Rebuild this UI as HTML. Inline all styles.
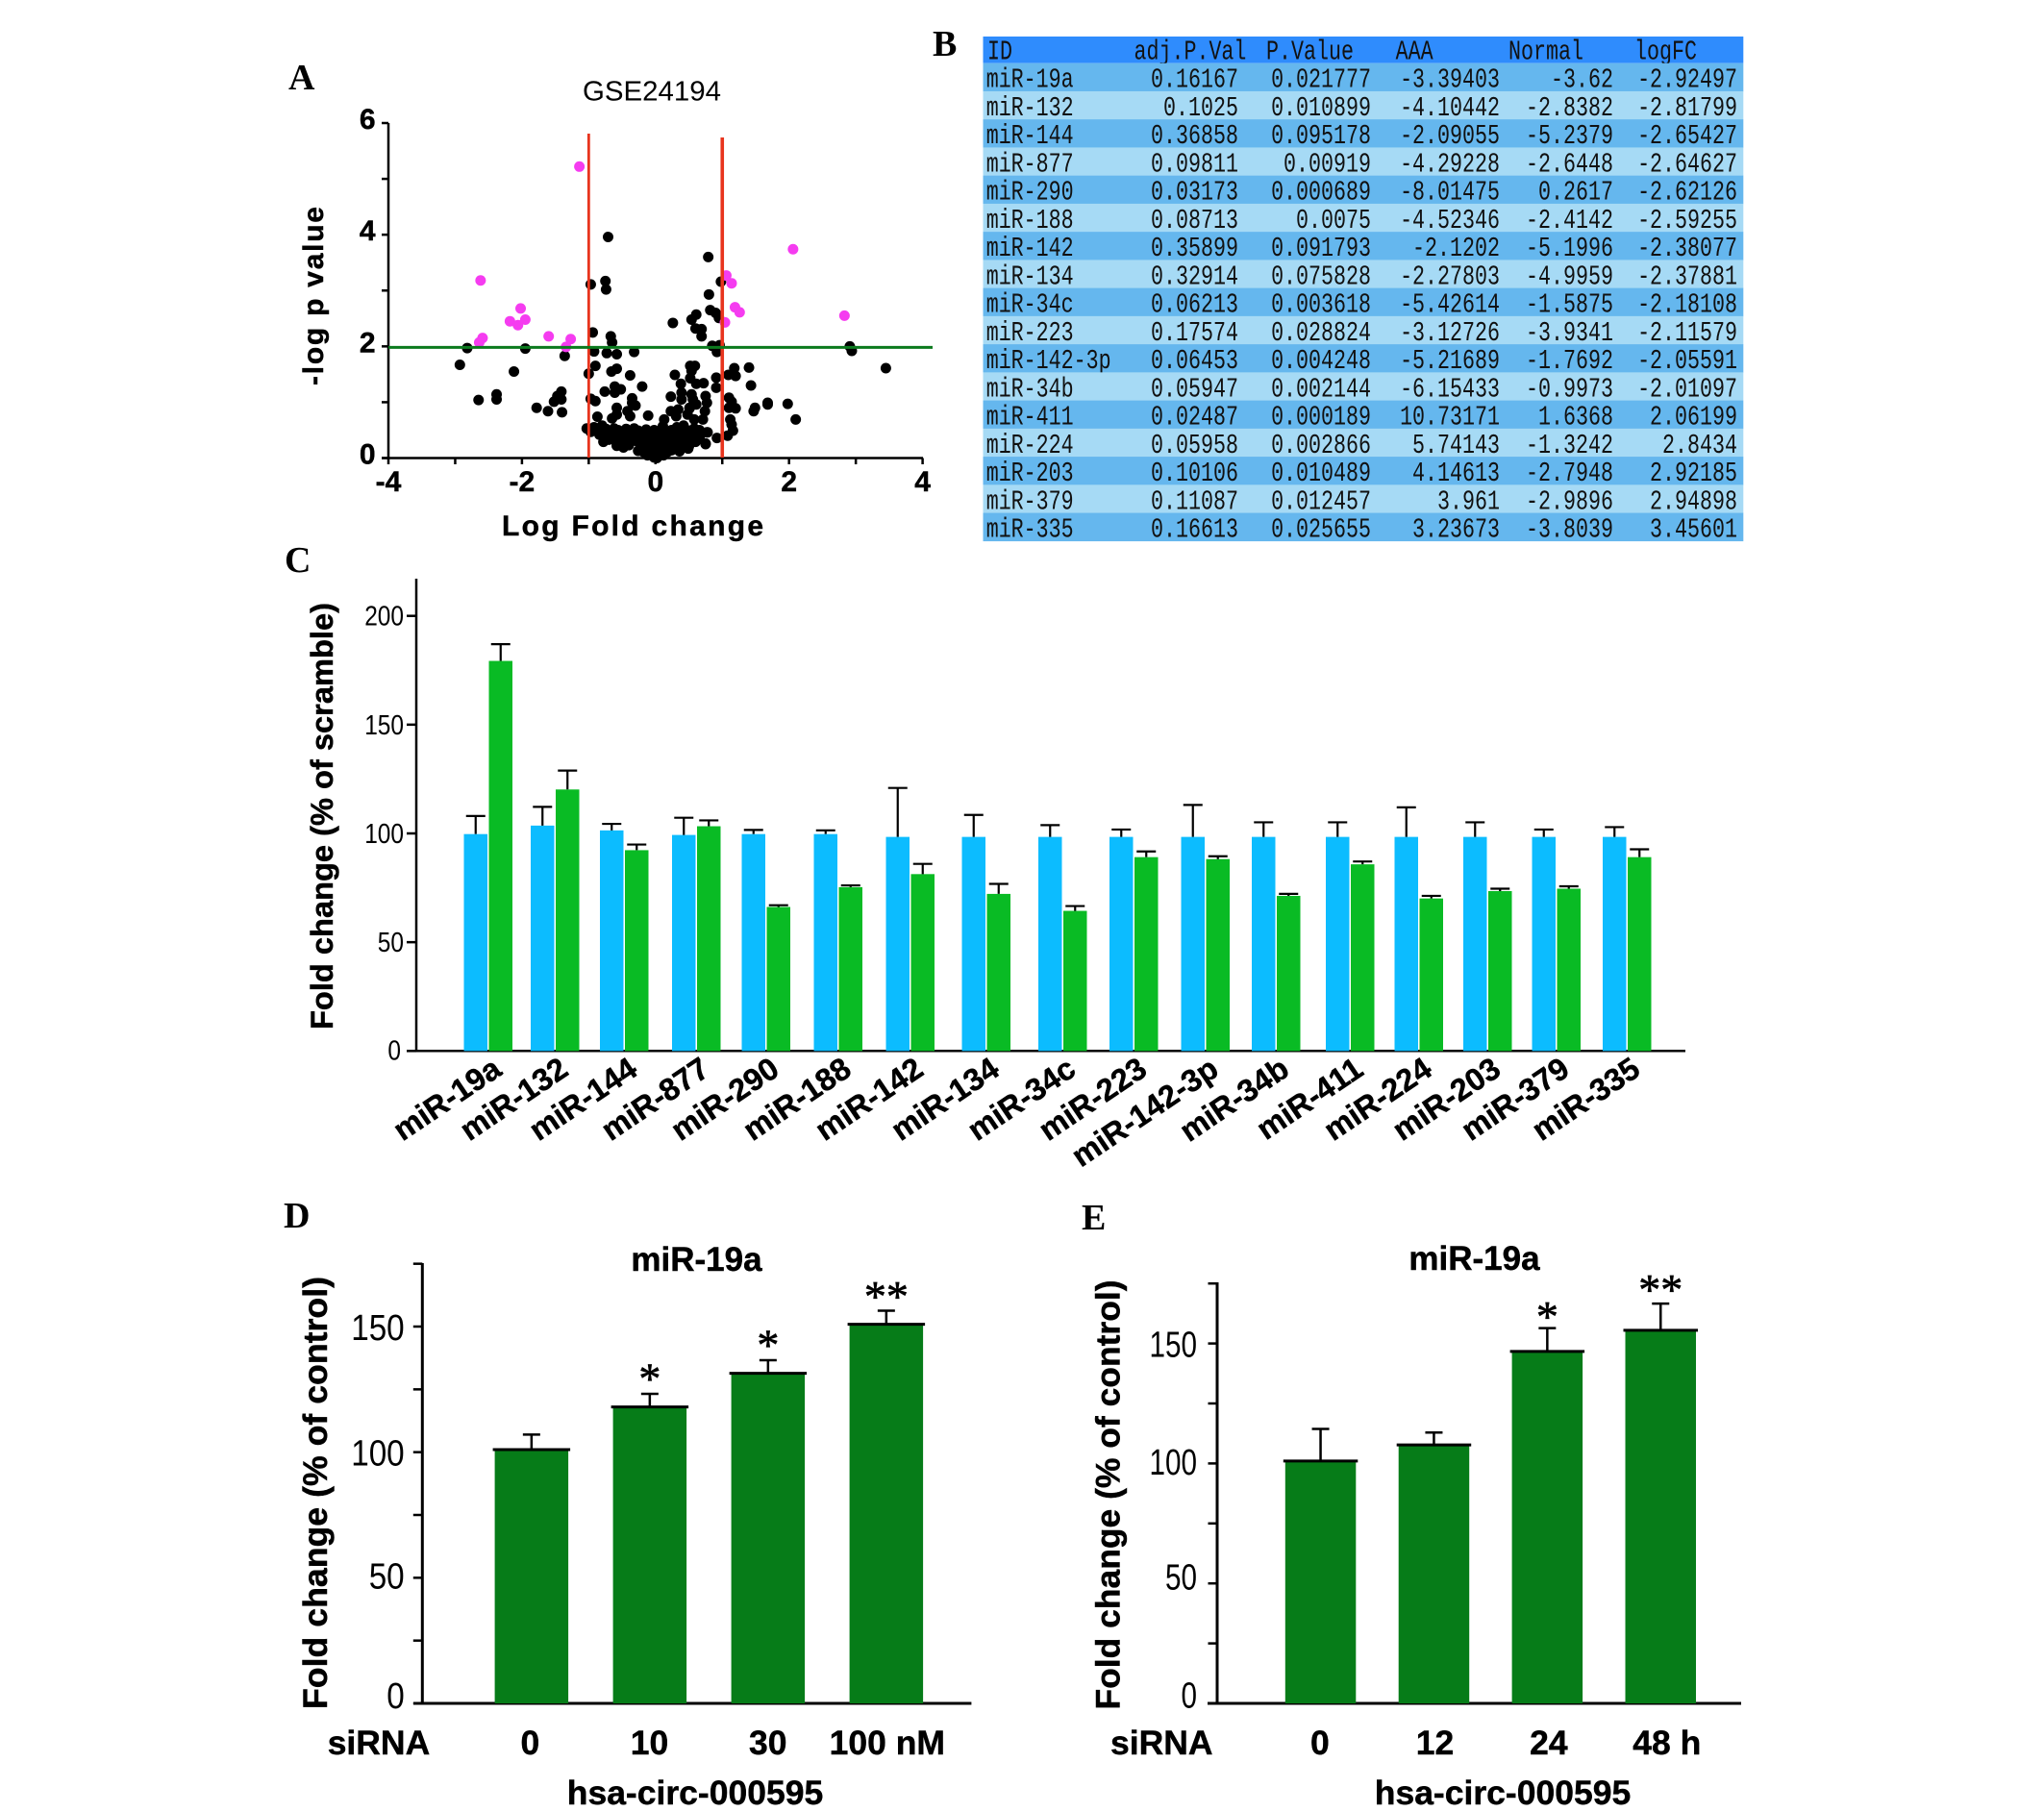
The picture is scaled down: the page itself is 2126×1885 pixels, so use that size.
<!DOCTYPE html>
<html lang="en">
<head>
<meta charset="utf-8">
<title>miR-19a multi-panel figure</title>
<style>
html,body{margin:0;padding:0;background:#fff;}
svg{display:block;}
text{font-family:"Liberation Sans",Arial,sans-serif;fill:#000;}
.letter{font-family:"Liberation Serif",serif;font-weight:bold;font-size:38px;}
.bold,text[font-weight="bold"]{font-weight:bold;stroke:#000;stroke-width:.45px;}
.mono{font-family:"Liberation Mono",monospace;font-size:29px;fill:#111;}
</style>
</head>
<body>
<svg id="fig" xmlns="http://www.w3.org/2000/svg" width="2126" height="1885" viewBox="0 0 2126 1885">
  <rect x="0" y="0" width="2126" height="1885" fill="#fff"/>

  <text class="letter" x="300" y="93">A</text>
  <text class="letter" x="970" y="58">B</text>
  <text class="letter" x="296" y="595">C</text>
  <text class="letter" x="295" y="1277">D</text>
  <text class="letter" x="1125" y="1279">E</text>

  <g id="panelA">
    <text x="678" y="104.5" font-size="29" text-anchor="middle" textLength="144" lengthAdjust="spacingAndGlyphs">GSE24194</text>
    <text class="bold" x="658" y="557" font-size="30" text-anchor="middle" textLength="272" lengthAdjust="spacing">Log Fold change</text>
    <text class="bold" transform="translate(336,308) rotate(-90)" font-size="30" text-anchor="middle" textLength="186" lengthAdjust="spacing">-log p value</text>
    <line x1="404" y1="128" x2="404" y2="477" stroke="#000" stroke-width="2.5"/>
    <line x1="397" y1="476.5" x2="960" y2="476.5" stroke="#000" stroke-width="2.5"/>
  </g>

  <g id="panelB"></g>

  <g id="panelC">
    <text class="bold" transform="translate(346,849) rotate(-90)" font-size="32.6" text-anchor="middle" textLength="444" lengthAdjust="spacingAndGlyphs">Fold change (% of scramble)</text>
    <line x1="433" y1="602" x2="433" y2="1094" stroke="#000" stroke-width="2.5"/>
    <line x1="423" y1="1093.3" x2="1753" y2="1093.3" stroke="#000" stroke-width="2.5"/>
  </g>

  <g id="panelD">
    <text class="bold" x="724.5" y="1322" font-size="35" text-anchor="middle">miR-19a</text>
    <text class="bold" transform="translate(340,1553) rotate(-90)" font-size="35.5" text-anchor="middle" textLength="450" lengthAdjust="spacingAndGlyphs">Fold change (% of control)</text>
    <text class="bold" x="340.7" y="1825" font-size="35.5">siRNA</text>
    <text class="bold" x="723" y="1877" font-size="35.5" text-anchor="middle">hsa-circ-000595</text>
    <line x1="439.3" y1="1314" x2="439.3" y2="1773" stroke="#000" stroke-width="3"/>
    <line x1="430" y1="1772" x2="1010.4" y2="1772" stroke="#000" stroke-width="3"/>
  </g>

  <g id="panelE">
    <text class="bold" x="1533.5" y="1321" font-size="35" text-anchor="middle">miR-19a</text>
    <text class="bold" transform="translate(1164.7,1555) rotate(-90)" font-size="35.5" text-anchor="middle" textLength="447" lengthAdjust="spacingAndGlyphs">Fold change (% of control)</text>
    <text class="bold" x="1155" y="1825" font-size="35.5">siRNA</text>
    <text class="bold" x="1563" y="1877" font-size="35.5" text-anchor="middle">hsa-circ-000595</text>
    <line x1="1266" y1="1334" x2="1266" y2="1773" stroke="#000" stroke-width="3"/>
    <line x1="1256" y1="1772" x2="1811" y2="1772" stroke="#000" stroke-width="3"/>
  </g>
</svg>

<script>
// ---------- Panel A data ----------
const volcanoXTicks = [-4,-2,0,2,4];
const volcanoXMinor = [-3,-1,1,3];
const volcanoYTicks = [0,2,4,6];
const volcanoYMinor = [1,3,5];
const cutoffFC = [-1,1];
const cutoffP = 2;
const magentaFC = [-1.14,-2.62,2.06,1.06,1.14,1.19,1.26,1.04,2.83,-2.02,-2.18,-2.06,-1.95,-1.60,-1.27,-1.34,-2.59,-2.64];
const magentaP  = [5.22,3.18,3.74,3.27,3.13,2.70,2.61,2.43,2.55,2.68,2.45,2.38,2.48,2.18,2.13,1.99,2.15,2.07];
const blackFC = [-0.71,0.79,-0.75,-0.97,-0.74,0.98,0.80,0.82,0.90,0.95,0.61,0.54,0.26,0.60,0.69,0.69,-0.94,-0.67,-0.65,0.85,0.96,0.92,-2.82,-1.95,-1.36,-0.92,-0.73,-0.58,-0.32,2.91,2.94,3.45,-2.93,-2.12,1.40,-0.90,-1.00,-0.66,-0.58,-0.38,0.52,0.59,0.54,0.52,0.29,1.18,1.09,1.20,0.91,0.38,0.61,0.72,0.91,1.43,-0.20,-0.61,-0.52,-0.61,-0.76,-2.38,-2.38,-2.65,-1.41,-1.47,-1.41,-1.52,-1.78,-1.61,-1.40,-0.97,-0.90,-0.35,-0.35,-0.30,-0.58,-0.42,-0.87,-0.58,-0.65,-0.38,-0.11,1.68,1.68,1.98,2.10,1.49,1.47,1.20,1.10,1.14,1.10,1.12,1.14,1.16,1.08,0.92,0.77,0.75,0.65,0.23,0.39,0.39,0.54,0.56,0.75,0.77,0.61,0.51,0.74,0.23,0.34,0.31,0.48,0.58,0.71,0.13,0.11,0.51,0.42,0.32,0.47,0.66,0.78,0.75,0.49,
  -1.03,-0.97,-0.92,-0.86,-0.80,-0.74,-0.68,-0.62,-0.56,-0.50,-0.44,-0.38,-0.32,-0.26,-0.20,-0.14,-0.08,-0.02,0.04,0.10,0.17,0.24,0.32,0.38,0.44,0.52,0.58,0.66,
  -0.84,-0.76,-0.66,-0.58,-0.50,-0.42,-0.34,-0.28,-0.22,-0.16,-0.10,-0.04,0.02,0.08,0.14,0.20,0.28,0.36,0.42,0.50,0.56,
  -0.78,-0.70,-0.60,-0.52,-0.46,-0.30,-0.24,-0.18,-0.12,-0.06,0.00,0.06,0.12,0.18,0.24,0.34,0.44,0.52,0.60,
  -0.58,-0.48,-0.40,-0.22,-0.16,-0.10,-0.04,0.02,0.08,0.14,0.20,0.30,0.40,0.50,
  -0.26,-0.18,-0.12,-0.06,0.00,0.06,0.12,0.18,0.24,0.36,
  -0.12,-0.06,0.00,0.06,0.12,-0.02,0.02];
const blackP = [3.96,3.60,3.17,3.11,3.02,3.16,2.93,2.65,2.60,2.51,2.57,2.48,2.42,2.32,2.31,2.18,2.25,2.18,2.07,2.01,2.02,1.90,1.97,1.96,1.83,1.91,1.88,1.86,1.90,2.00,1.92,1.61,1.67,1.55,1.62,1.65,1.51,1.55,1.60,1.48,1.65,1.65,1.56,1.43,1.49,1.61,1.49,1.47,1.44,1.33,1.33,1.34,1.26,1.30,1.28,1.28,1.23,1.17,1.19,1.14,1.05,1.04,1.19,1.11,1.05,1.01,0.90,0.84,0.82,1.06,1.02,1.07,0.99,0.94,0.90,0.84,0.74,0.78,0.71,0.75,0.76,0.99,0.96,0.97,0.69,0.90,0.84,0.89,1.08,1.01,0.90,0.69,0.60,0.49,0.40,0.36,0.46,0.25,0.35,1.10,1.17,1.05,1.14,1.05,1.11,0.99,0.96,0.90,0.84,0.84,0.87,0.75,0.78,0.69,0.69,0.69,0.57,0.89,0.58,0.49,0.41,0.37,0.46,0.26,0.17,
  0.53,0.47,0.55,0.50,0.58,0.52,0.47,0.53,0.50,0.46,0.52,0.48,0.53,0.49,0.47,0.51,0.46,0.50,0.47,0.52,0.47,0.50,0.55,0.47,0.52,0.49,0.53,0.50,
  0.42,0.36,0.41,0.38,0.43,0.37,0.41,0.38,0.42,0.37,0.41,0.38,0.42,0.37,0.41,0.38,0.43,0.37,0.41,0.38,0.42,
  0.29,0.33,0.31,0.27,0.33,0.31,0.28,0.32,0.29,0.33,0.28,0.32,0.29,0.33,0.28,0.31,0.27,0.32,0.29,
  0.22,0.19,0.23,0.21,0.19,0.22,0.18,0.21,0.19,0.22,0.19,0.23,0.18,0.21,
  0.13,0.11,0.14,0.10,0.12,0.10,0.13,0.11,0.14,0.12,
  0.05,0.07,0.04,0.06,0.05,0.01,0.00];

// ---------- Panel B data ----------
const tableHeaders = ["ID","adj.P.Val","P.Value","AAA","Normal","logFC"];
const tableIds = ["miR-19a","miR-132","miR-144","miR-877","miR-290","miR-188","miR-142","miR-134","miR-34c","miR-223","miR-142-3p","miR-34b","miR-411","miR-224","miR-203","miR-379","miR-335"];
const tableAdjP = ["0.16167","0.1025","0.36858","0.09811","0.03173","0.08713","0.35899","0.32914","0.06213","0.17574","0.06453","0.05947","0.02487","0.05958","0.10106","0.11087","0.16613"];
const tablePVal = ["0.021777","0.010899","0.095178","0.00919","0.000689","0.0075","0.091793","0.075828","0.003618","0.028824","0.004248","0.002144","0.000189","0.002866","0.010489","0.012457","0.025655"];
const tableAAA = ["-3.39403","-4.10442","-2.09055","-4.29228","-8.01475","-4.52346","-2.1202","-2.27803","-5.42614","-3.12726","-5.21689","-6.15433","10.73171","5.74143","4.14613","3.961","3.23673"];
const tableNormal = ["-3.62","-2.8382","-5.2379","-2.6448","0.2617","-2.4142","-5.1996","-4.9959","-1.5875","-3.9341","-1.7692","-0.9973","1.6368","-1.3242","-2.7948","-2.9896","-3.8039"];
const tableLogFC = ["-2.92497","-2.81799","-2.65427","-2.64627","-2.62126","-2.59255","-2.38077","-2.37881","-2.18108","-2.11579","-2.05591","-2.01097","2.06199","2.8434","2.92185","2.94898","3.45601"];

// ---------- Panel C data ----------
const mirCategories = ["miR-19a","miR-132","miR-144","miR-877","miR-290","miR-188","miR-142","miR-134","miR-34c","miR-223","miR-142-3p","miR-34b","miR-411","miR-224","miR-203","miR-379","miR-335"];
const scrambleValues = [99.7,103.6,101.4,99.3,99.7,99.7,98.4,98.4,98.4,98.4,98.4,98.4,98.4,98.4,98.4,98.4,98.4];
const scrambleErrTops = [108,112.2,104.4,107.2,101.6,101.4,120.9,108.5,103.8,101.8,113.1,105.1,105.1,112,105.1,101.8,102.9];
const mimicValues = [179.3,120.2,92.3,103.3,66.2,75.3,81.3,72.2,64.4,89.1,88.2,71.3,85.8,70.1,73.5,74.6,89.1];
const mimicErrTops = [187,128.9,94.9,106,67,76.1,86,76.8,66.6,91.7,89.5,72.2,87.1,71.3,74.6,75.7,92.7];
const mirYTicks = [0,50,100,150,200];

// ---------- Panel D data ----------
const doseLabels = ["0","10","30","100 nM"];
const doseValues = [101,118,131.4,150.9];
const doseErrTops = [107,123.2,136.6,156.3];
const doseStars = ["","*","*","**"];
const doseYTicks = [0,50,100,150];
const doseYMinor = [25,75,125,175];

// ---------- Panel E data ----------
const timeLabels = ["0","12","24","48 h"];
const timeValues = [101,107.7,146.7,155.5];
const timeErrTops = [114.4,112.9,156.4,166.6];
const timeStars = ["","","*","**"];
const timeYTicks = [0,50,100,150];
const timeYMinor = [25,75,125,175];

// ---------- Helpers ----------
const NS = "http://www.w3.org/2000/svg";
function make(parent, tag, attrs, txt){
  const el = document.createElementNS(NS, tag);
  for (const k in attrs) el.setAttribute(k, attrs[k]);
  if (txt !== undefined) el.textContent = txt;
  parent.appendChild(el);
  return el;
}
function linear(d0,d1,r0,r1){ return v => r0 + (v-d0)*(r1-r0)/(d1-d0); }

// ---------- Panel A ----------
(function(){
  const g = document.getElementById('panelA');
  const x = linear(-4,4,404,959.6);
  const y = linear(0,6,476.5,128);
  volcanoYTicks.concat(volcanoYMinor).forEach(v=>{
    const t = make(g,'line',{x1:397,x2:404,y1:y(v),y2:y(v),stroke:'#000','stroke-width':2.5});
    
    
  });
  volcanoXTicks.concat(volcanoXMinor).forEach(v=>{
    const t = make(g,'line',{x1:x(v),x2:x(v),y1:476.5,y2:483,stroke:'#000','stroke-width':2.5});
    
    
  });
  volcanoYTicks.forEach(v=>{
    const t = make(g,'text',{x:390.5,y:y(v)+6,'font-size':30,'font-weight':'bold','text-anchor':'end'},String(v));
    
    
  });
  volcanoXTicks.forEach(v=>{
    const t = make(g,'text',{x:x(v),y:511,'font-size':30,'font-weight':'bold','text-anchor':'middle'},String(v));
    
    
  });
  blackFC.forEach((v,i)=>{
    const c = make(g,'circle',{cx:x(v),cy:y(blackP[i]),r:5.5,fill:'#000'});
    
    
  });
  magentaFC.forEach((v,i)=>{
    const c = make(g,'circle',{cx:x(v),cy:y(magentaP[i]),r:5.5,fill:'#f53cf0'});
    
    
  });
  cutoffFC.forEach((v,i)=>{
    const l = make(g,'line',{x1:x(v),x2:x(v),y1:i?143:139,y2:476,stroke:'#e8351e','stroke-width':i?3.6:2.8});
    
    
  });
  const h = make(g,'line',{x1:404,x2:970,y1:y(cutoffP)+1,y2:y(cutoffP)+1,stroke:'#0b7a1e','stroke-width':3});
  
  
})();

// ---------- Panel B ----------
(function(){
  const g = document.getElementById('panelB');
  const head = make(g,'rect',{x:1022.5,y:38,width:790.8,height:27.7,fill:'#2f8cfd'});
  
  
  const headX = [1027,1179.5,1317,1451.6,1569,1700];
  tableHeaders.forEach((s,i)=>{
    const t = make(g,'text',{class:'mono',transform:`translate(${headX[i]},61.5) scale(0.747,1)`},s);
    
    
  });
  const rowH = (562.8-65.7)/tableIds.length;
  const colRight = [1288,1426,1560,1678,1807];
  const cols = [tableAdjP,tablePVal,tableAAA,tableNormal,tableLogFC];
  tableIds.forEach((id,r)=>{
    const top = 65.7 + r*rowH;
    const row = make(g,'rect',{x:1022.5,y:top,width:790.8,height:rowH+0.3,fill:r%2?'#a6daf5':'#65b7ee'});
    
    
    const base = top + 25;
    const idCell = make(g,'text',{class:'mono',transform:`translate(1025.7,${base}) scale(0.747,1)`},id);
    
    
    cols.forEach((col,c)=>{
      const t = make(g,'text',{class:'mono','text-anchor':'end',transform:`translate(${colRight[c]},${base}) scale(0.747,1)`},col[r]);
      
      
    });
  });
})();

// ---------- Panel C ----------
(function(){
  const g = document.getElementById('panelC');
  const y = linear(0,200,1093.3,640.7);
  const groupNudge = [0,-4.5,-6.5,-5.5,-7,-6,-5,0,5.5,5.5,6,5.5,8.5,6,3.5,1,0.5];
  const groupX = i => 482.5 + 74*i + groupNudge[i];
  const barW = 24.5;
  mirYTicks.forEach(v=>{
    const t = make(g,'line',{x1:423,x2:433,y1:y(v),y2:y(v),stroke:'#000','stroke-width':2.5});
    
    
    const s = String(v);
    const l = make(g,'text',{x:v===0?417:420,y:y(v)+(v===0?9.4:10),'font-size':29,'text-anchor':'end',textLength:s.length*13.6,lengthAdjust:'spacingAndGlyphs'},s);
    
    
  });
  mirCategories.forEach((name,i)=>{
    const x0 = groupX(i), x1 = x0 + 26;
    const blue = make(g,'rect',{x:x0,y:y(scrambleValues[i]),width:barW,height:y(0)-y(scrambleValues[i]),fill:'#0cbcff'});
    
    
    const green = make(g,'rect',{x:x1,y:y(mimicValues[i]),width:barW,height:y(0)-y(mimicValues[i]),fill:'#09bb24'});
    
    
    const errB = make(g,'path',{d:`M${x0+barW/2},${y(scrambleValues[i])}V${y(scrambleErrTops[i])}M${x0+barW/2-10},${y(scrambleErrTops[i])}H${x0+barW/2+10}`,stroke:'#000','stroke-width':2.2,fill:'none'});
    
    
    const errG = make(g,'path',{d:`M${x1+barW/2},${y(mimicValues[i])}V${y(mimicErrTops[i])}M${x1+barW/2-10},${y(mimicErrTops[i])}H${x1+barW/2+10}`,stroke:'#000','stroke-width':2.2,fill:'none'});
    
    
    const lab = make(g,'text',{'font-size':32.5,'font-weight':'bold','text-anchor':'end',transform:`translate(${x0+25+16},1117) rotate(-34)`},name);
    
    
  });
})();

// ---------- Panels D and E ----------
function drawGreenBars(opts){
  const g = document.getElementById(opts.id);
  const y = linear(0,150,1772,opts.y150);
  opts.major.concat(opts.minor).forEach(v=>{
    const t = make(g,'line',{x1:opts.axisX-9.5,x2:opts.axisX,y1:y(v),y2:y(v),stroke:'#000','stroke-width':2.5});
    
    
  });
  opts.major.forEach(v=>{
    const s = String(v);
    const l = make(g,'text',{x:opts.labelRight,y:y(v)+opts.labelDy(v),'font-size':38,'text-anchor':'end',textLength:s.length*opts.digitW,lengthAdjust:'spacingAndGlyphs'},s);
    
    
  });
  opts.values.forEach((v,i)=>{
    const left = opts.first + i*opts.step;
    const mid = left + opts.width/2 + opts.errNudge;
    const bar = make(g,'rect',{x:left,y:y(v),width:opts.width,height:y(0)-y(v),fill:'#067c18'});
    
    
    const top = make(g,'line',{x1:left-2,x2:left+opts.width+2,y1:y(v),y2:y(v),stroke:'#000','stroke-width':3});
    
    
    const err = make(g,'path',{d:`M${mid},${y(v)}V${y(opts.errs[i])}M${mid-9},${y(opts.errs[i])}H${mid+9}`,stroke:'#000','stroke-width':2.5,fill:'none'});
    
    
    if (opts.stars[i]) {
      const st = make(g,'text',{x:mid+opts.starNudge,y:y(opts.errs[i])-(opts.stars[i]==='**'?21:opts.starGap)+21.6,'font-size':46,'text-anchor':'middle',stroke:'#000','stroke-width':0.7,style:'font-family:"Liberation Serif",serif'},opts.stars[i]);
      
      
    }
    const lab = make(g,'text',{x:opts.labelX(i),y:1825,'font-size':35.5,'font-weight':'bold','text-anchor':'middle'},opts.labels[i]);
    
    
  });
}
const doseLabelNudge = [-1.4,-0.3,0,1];
const timeLabelNudge = [-0.7,1,1.5,6.5];
drawGreenBars({id:'panelD',y150:1380,axisX:439.3,labelRight:420.7,digitW:18.5,
  labelDy:v=>v===0?5:(v===50?11:14),major:doseYTicks,minor:doseYMinor,values:doseValues,errs:doseErrTops,stars:doseStars,labels:doseLabels,
  first:514.6,step:123,width:76.5,errNudge:0,starNudge:0,starGap:22,labelX:i=>552.8+i*123+doseLabelNudge[i]});
drawGreenBars({id:'panelE',y150:1397.6,axisX:1266,labelRight:1245,digitW:16.5,
  labelDy:v=>v===0?4.5:(v===50?6.5:(v===100?11.5:14)),major:timeYTicks,minor:timeYMinor,values:timeValues,errs:timeErrTops,stars:timeStars,labels:timeLabels,
  first:1336.8,step:117.9,width:73.5,errNudge:0,starNudge:0,starGap:18,labelX:i=>1373.6+i*117.9+timeLabelNudge[i]});
</script>
</body>
</html>
